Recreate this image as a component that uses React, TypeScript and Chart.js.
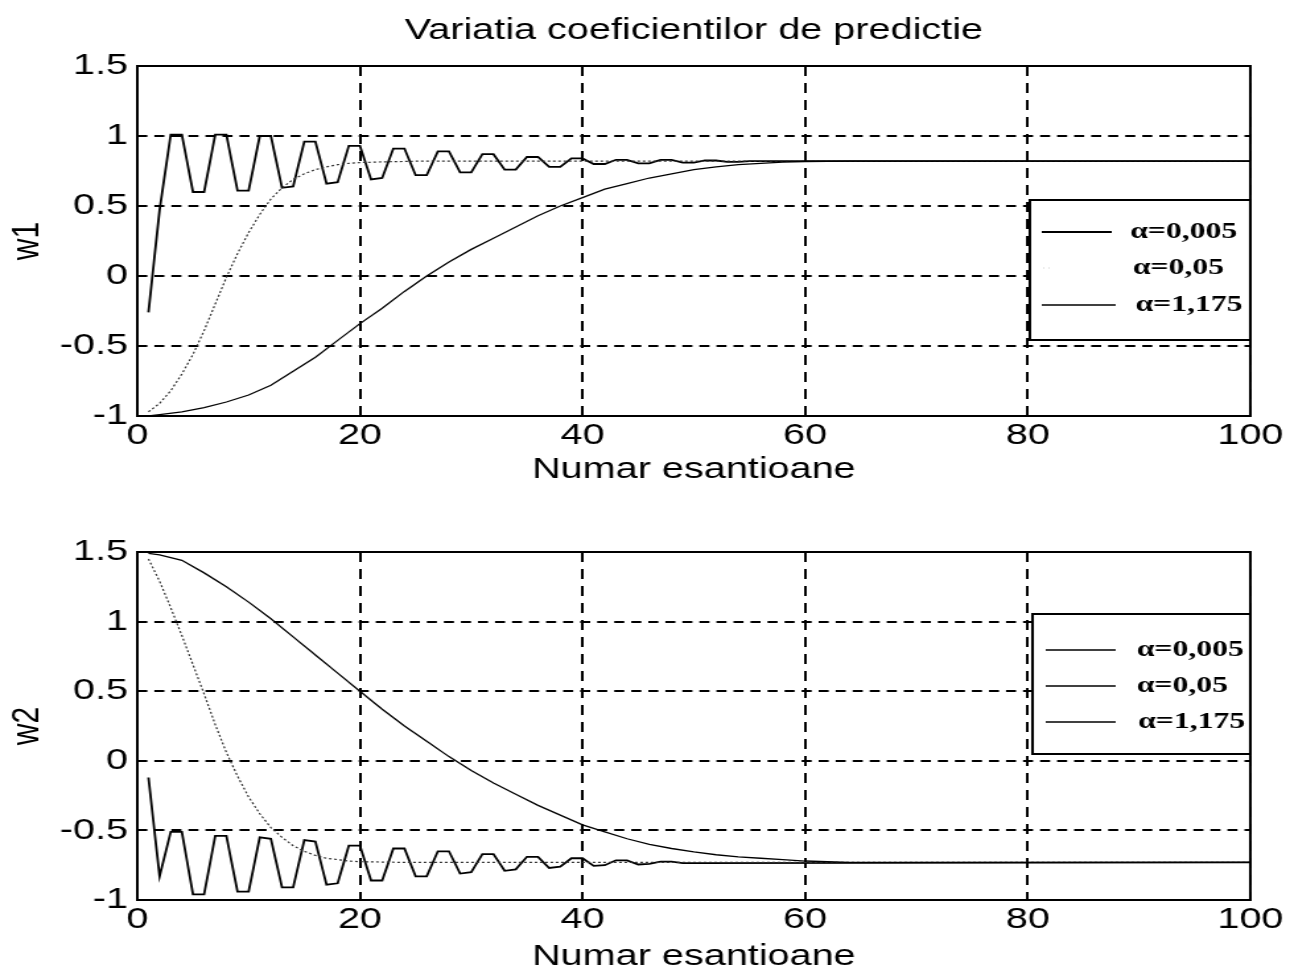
import React, { useEffect, useRef } from "react";
import { Chart, registerables } from "chart.js";

Chart.register(...registerables);

// ---------- data ----------
const chartTitle = "Variatia coeficientilor de predictie";
const xAxisTitle = "Numar esantioane";
const legendLabels = ["α=0,005", "α=0,05", "α=1,175"];
const xMin = 0;
const xMax = 100;
const xStep = 20;
const yMin = -1;
const yMax = 1.5;
const yStep = 0.5;

// w1, alpha = 0.005 (slow)
const w1SlowX = [1, 2, 4, 6, 8, 10, 12, 14, 16, 18, 20, 22, 24, 26, 28, 30, 32, 34, 36, 38, 40, 42, 44, 46, 48, 50, 52, 54, 56, 58, 60, 64, 100];
const w1SlowY = [-1.0, -0.99, -0.97, -0.94, -0.9, -0.85, -0.78, -0.68, -0.58, -0.46, -0.34, -0.23, -0.11, 0.0, 0.1, 0.19, 0.27, 0.35, 0.43, 0.5, 0.56, 0.62, 0.66, 0.7, 0.73, 0.76, 0.78, 0.795, 0.805, 0.813, 0.818, 0.82, 0.82];

// w1, alpha = 0.05 (medium)
const w1MidX = [1, 2, 3, 4, 5, 6, 7, 8, 9, 10, 11, 12, 13, 14, 15, 16, 17, 18, 19, 20, 22, 25, 100];
const w1MidY = [-0.97, -0.91, -0.82, -0.7, -0.56, -0.39, -0.2, -0.01, 0.16, 0.31, 0.44, 0.55, 0.63, 0.69, 0.73, 0.76, 0.78, 0.795, 0.805, 0.81, 0.815, 0.82, 0.82];

// w1, alpha = 1.175 (fast, oscillating)
const w1FastX = [1, 2, 3, 4, 5, 6, 7, 8, 9, 10, 11, 12, 13, 14, 15, 16, 17, 18, 19, 20, 21, 22, 23, 24, 25, 26, 27, 28, 29, 30, 31, 32, 33, 34, 35, 36, 37, 38, 39, 40, 41, 42, 43, 44, 45, 46, 47, 48, 49, 50, 51, 52, 53, 54, 55, 56, 100];
const w1FastY = [-0.26, 0.47, 1.01, 1.01, 0.6, 0.6, 1.01, 1.01, 0.61, 0.61, 1.0, 1.0, 0.63, 0.64, 0.96, 0.96, 0.66, 0.67, 0.93, 0.93, 0.69, 0.7, 0.91, 0.91, 0.72, 0.72, 0.89, 0.89, 0.74, 0.74, 0.87, 0.87, 0.76, 0.76, 0.85, 0.85, 0.78, 0.78, 0.84, 0.84, 0.8, 0.8, 0.83, 0.83, 0.805, 0.805, 0.83, 0.83, 0.81, 0.81, 0.825, 0.825, 0.815, 0.815, 0.82, 0.82, 0.82];

// w2, alpha = 0.005 (slow)
const w2SlowX = [1, 2, 4, 6, 8, 10, 12, 14, 16, 18, 20, 22, 24, 26, 28, 30, 32, 34, 36, 38, 40, 42, 44, 46, 48, 50, 52, 54, 56, 58, 60, 64, 100];
const w2SlowY = [1.49, 1.48, 1.44, 1.35, 1.25, 1.14, 1.02, 0.89, 0.76, 0.63, 0.5, 0.37, 0.25, 0.14, 0.03, -0.07, -0.16, -0.24, -0.32, -0.39, -0.46, -0.51, -0.56, -0.6, -0.63, -0.655, -0.675, -0.69, -0.7, -0.71, -0.72, -0.73, -0.73];

// w2, alpha = 0.05 (medium)
const w2MidX = [1, 2, 3, 4, 5, 6, 7, 8, 9, 10, 11, 12, 13, 14, 15, 16, 17, 18, 19, 20, 24, 100];
const w2MidY = [1.45, 1.29, 1.1, 0.9, 0.69, 0.48, 0.26, 0.06, -0.11, -0.26, -0.38, -0.48, -0.55, -0.61, -0.65, -0.68, -0.7, -0.71, -0.72, -0.725, -0.73, -0.73];

// w2, alpha = 1.175 (fast, oscillating)
const w2FastX = [1, 2, 3, 4, 5, 6, 7, 8, 9, 10, 11, 12, 13, 14, 15, 16, 17, 18, 19, 20, 21, 22, 23, 24, 25, 26, 27, 28, 29, 30, 31, 32, 33, 34, 35, 36, 37, 38, 39, 40, 41, 42, 43, 44, 45, 46, 47, 48, 49, 50, 100];
const w2FastY = [-0.12, -0.83, -0.51, -0.51, -0.96, -0.96, -0.54, -0.54, -0.94, -0.94, -0.55, -0.56, -0.91, -0.91, -0.57, -0.58, -0.89, -0.88, -0.61, -0.61, -0.86, -0.86, -0.63, -0.63, -0.83, -0.83, -0.65, -0.65, -0.81, -0.8, -0.67, -0.67, -0.79, -0.78, -0.69, -0.69, -0.77, -0.76, -0.7, -0.7, -0.755, -0.75, -0.715, -0.715, -0.745, -0.74, -0.725, -0.725, -0.735, -0.735, -0.73];

// ---------- layout ----------
const STRETCH = 1.32;
const FULL_W = 1290;
const CANVAS_W = Math.round(FULL_W / STRETCH);
const CANVAS_H = 485;
const SANS = '"Liberation Sans", Arial, sans-serif';
const SERIF = '"Liberation Serif", "Times New Roman", serif';

const toPoints = (xs: number[], ys: number[]) => xs.map((x, i) => ({ x, y: ys[i] }));

type LegendStyle = { color: string; width: number; dash: number[]; x0: number; x1: number };

function legendPlugin(topOffset: number, boxW: number, rows: number[], styles: LegendStyle[], textX: number[]) {
  return {
    id: "boxLegend",
    afterDatasetsDraw(chart: any) {
      const { ctx, chartArea } = chart;
      const h = 140;
      const left = chartArea.right - boxW;
      const top = chartArea.top + topOffset;
      ctx.save();
      ctx.fillStyle = "#fff";
      ctx.fillRect(left, top, boxW, h);
      ctx.strokeStyle = "#000";
      ctx.lineWidth = 2;
      ctx.strokeRect(left, top, boxW, h);
      ctx.font = `bold 24px ${SERIF}`;
      ctx.textBaseline = "middle";
      ctx.textAlign = "left";
      legendLabels.forEach((label, i) => {
        const y = top + rows[i];
        const s = styles[i];
        ctx.beginPath();
        ctx.setLineDash(s.dash);
        ctx.strokeStyle = s.color;
        ctx.lineWidth = s.width;
        ctx.moveTo(left + s.x0, y);
        ctx.lineTo(left + s.x1, y);
        ctx.stroke();
        ctx.setLineDash([]);
        ctx.fillStyle = "#000";
        ctx.fillText(label, left + textX[i], y);
      });
      ctx.restore();
    },
  };
}

const framePlugin = {
  id: "frame",
  afterDraw(chart: any) {
    const { ctx, chartArea } = chart;
    ctx.save();
    ctx.strokeStyle = "#000";
    ctx.lineWidth = 2;
    ctx.strokeRect(chartArea.left, chartArea.top, chartArea.right - chartArea.left, chartArea.bottom - chartArea.top);
    ctx.restore();
  },
};

function makeConfig(p: {
  slow: { x: number; y: number }[];
  mid: { x: number; y: number }[];
  fast: { x: number; y: number }[];
  yTitle: string;
  showTitle: boolean;
  topPad: number;
  xScaleH: number;
  xTitleLH: number;
  legend: any;
}) {
  return {
    type: "line" as const,
    data: {
      datasets: [
        { label: legendLabels[0], data: p.slow, borderColor: "#000", borderWidth: 1.3, pointRadius: 0, tension: 0 },
        { label: legendLabels[1], data: p.mid, borderColor: "#333", borderWidth: 1.2, borderDash: [2, 2], pointRadius: 0, tension: 0 },
        { label: legendLabels[2], data: p.fast, borderColor: "#000", borderWidth: 1.8, pointRadius: 0, tension: 0 },
      ],
    },
    options: {
      responsive: false,
      animation: false,
      devicePixelRatio: 1,
      layout: { padding: { top: p.topPad, right: 30, left: 0, bottom: 0 } },
      plugins: {
        legend: { display: false },
        tooltip: { enabled: false },
        title: {
          display: p.showTitle,
          fullSize: false,
          text: chartTitle,
          color: "#000",
          font: { family: SANS, size: 30, weight: "normal", lineHeight: 1 },
          padding: { top: 16, bottom: 20 },
        },
      },
      scales: {
        x: {
          type: "linear",
          min: xMin,
          max: xMax,
          ticks: {
            stepSize: xStep,
            color: "#000",
            padding: 5,
            maxRotation: 0,
            font: { family: SANS, size: 30, lineHeight: 1 },
            callback: (v: any) => String(v),
          },
          grid: { color: "#000", lineWidth: 2, drawTicks: false },
          border: { display: false, dash: [10, 7] },
          title: {
            display: true,
            text: xAxisTitle,
            color: "#000",
            font: { family: SANS, size: 30, lineHeight: p.xTitleLH },
            padding: { top: 0, bottom: 0 },
          },
          afterFit: (scale: any) => {
            scale.height = p.xScaleH;
          },
        },
        y: {
          type: "linear",
          min: yMin,
          max: yMax,
          ticks: {
            stepSize: yStep,
            color: "#000",
            padding: 7,
            font: { family: SANS, size: 30, lineHeight: 1 },
            callback: (v: any) => String(Math.round(Number(v) * 10) / 10),
          },
          grid: { color: "#000", lineWidth: 2, drawTicks: false },
          border: { display: false, dash: [7.6, 5.3] },
          title: {
            display: true,
            text: p.yTitle,
            color: "#000",
            font: { family: SANS, size: 30, lineHeight: 1 },
            padding: { top: 6, bottom: 0 },
          },
          afterFit: (scale: any) => {
            scale.width = 104;
          },
        },
      },
    },
    plugins: [p.legend, framePlugin],
  };
}

const topLegendStyles: LegendStyle[] = [
  { color: "#000", width: 2, dash: [], x0: 9, x1: 62 },
  { color: "#cfcfcf", width: 1, dash: [1, 3], x0: 10, x1: 16 },
  { color: "#000", width: 1.5, dash: [], x0: 9, x1: 65 },
];
const bottomLegendStyles: LegendStyle[] = [
  { color: "#000", width: 1.5, dash: [], x0: 10, x1: 63 },
  { color: "#000", width: 1.5, dash: [], x0: 10, x1: 63 },
  { color: "#000", width: 1.5, dash: [], x0: 10, x1: 63 },
];

export default function App() {
  const topRef = useRef<HTMLCanvasElement | null>(null);
  const botRef = useRef<HTMLCanvasElement | null>(null);

  useEffect(() => {
    const c1 = new Chart(
      topRef.current as HTMLCanvasElement,
      makeConfig({
        slow: toPoints(w1SlowX, w1SlowY),
        mid: toPoints(w1MidX, w1MidY),
        fast: toPoints(w1FastX, w1FastY),
        yTitle: "w1",
        showTitle: true,
        topPad: 0,
        xScaleH: CANVAS_H - 416,
        xTitleLH: 1,
        legend: legendPlugin(134, 167, [32, 68, 105], topLegendStyles, [76, 78, 80]),
      }) as any
    );
    const c2 = new Chart(
      botRef.current as HTMLCanvasElement,
      makeConfig({
        slow: toPoints(w2SlowX, w2SlowY),
        mid: toPoints(w2MidX, w2MidY),
        fast: toPoints(w2FastX, w2FastY),
        yTitle: "w2",
        showTitle: false,
        topPad: 67,
        xScaleH: CANVAS_H - 415,
        xTitleLH: 0.86,
        legend: legendPlugin(62, 165, [36, 72, 108], bottomLegendStyles, [79, 79, 80]),
      }) as any
    );
    return () => {
      c1.destroy();
      c2.destroy();
    };
  }, []);

  const canvasStyle: React.CSSProperties = {
    display: "block",
    width: `${FULL_W}px`,
    height: `${CANVAS_H}px`,
  };

  return (
    <div
      style={{
        position: "fixed",
        left: 0,
        top: 0,
        width: FULL_W,
        height: 970,
        overflow: "hidden",
        background: "#fff",
      }}
    >
      <canvas ref={topRef} width={CANVAS_W} height={CANVAS_H} style={canvasStyle} />
      <canvas ref={botRef} width={CANVAS_W} height={CANVAS_H} style={canvasStyle} />
    </div>
  );
}
